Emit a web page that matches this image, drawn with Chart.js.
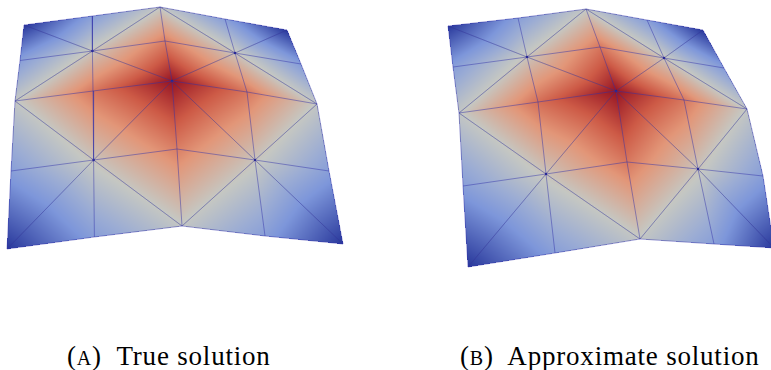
<!DOCTYPE html>
<html lang="en">
<head>
    <meta charset="UTF-8">
    <title>True and approximate solution</title>
    <script src="https://cdn.jsdelivr.net/npm/chart.js"></script>
    <style>
        html, body { margin: 0; background: #fff; overflow: hidden; }
        body { position: relative; width: 771px; height: 370px; }
        canvas { position: absolute; top: 0; }
        #trueMesh { left: 0; }
        #approxMesh { left: 385px; }
        .caption {
            position: absolute;
            top: 339px;
            font-family: "Liberation Serif", serif;
            font-size: 27px;
            line-height: 34px;
            letter-spacing: 0.8px;
            color: #000;
            white-space: nowrap;
        }
        .caption .tag { font-size: 20px; }
    </style>
</head>
<body>
    <canvas id="trueMesh" width="385" height="335"></canvas>
    <canvas id="approxMesh" width="386" height="335"></canvas>
    <div class="caption" style="left:67px">(<span class="tag">A</span>)&nbsp; True solution</div>
    <div class="caption" style="left:460px">(<span class="tag">B</span>)&nbsp; Approximate solution</div>

    <script>
        // Mesh nodes, 5 rows of 5, row by row
        const trueX = [24, 92.4, 160, 225, 287,  20, 92.4, 165, 235, 301,  15, 93, 172, 247, 317,  11, 93.6, 177, 255, 329,  7, 94.4, 182, 265, 343];
        const trueY = [25, 16, 7, 19, 30,  60.5, 51, 41, 53, 64,  101, 91, 81, 92, 104,  171, 160, 149, 160, 171,  249, 237, 226, 236, 244];
        const trueU = [0.0, 0.29, 0.49, 0.29, 0.0,  0.29, 0.52, 0.76, 0.52, 0.28,  0.49, 0.78, 1.0, 0.78, 0.49,  0.29, 0.52, 0.76, 0.52, 0.29,  0.0, 0.29, 0.49, 0.29, 0.0];

        const approxX = [448, 518, 586, 647, 703,  453, 527, 600, 664, 724,  459, 538, 616, 684, 747,  463, 546, 627, 698, 763,  468, 555, 640, 714, 774];
        const approxY = [26, 18, 9, 20, 30,  67, 57, 47, 58, 68,  113, 102, 91, 100, 109,  186, 174, 162, 169, 176,  267, 253, 239, 244, 248];
        const approxU = [0.0, 0.29, 0.49, 0.29, 0.0,  0.29, 0.52, 0.78, 0.52, 0.28,  0.49, 0.8, 1.0, 0.78, 0.49,  0.29, 0.52, 0.78, 0.52, 0.29,  0.0, 0.29, 0.49, 0.29, 0.0];

        // Blue to red colour map
        const mapStops = [0, 0.25, 0.36, 0.5, 0.7, 0.85, 1];
        const mapColors = [[40, 55, 155], [125, 150, 218], [155, 172, 212], [197, 199, 194], [226, 150, 120], [205, 90, 70], [150, 20, 35]];

        const GRID = 5;

        function colorFor(u) {
            let i = 0;
            while (i < mapStops.length - 2 && u > mapStops[i + 1]) i++;
            const t = Math.min(1, Math.max(0, (u - mapStops[i]) / (mapStops[i + 1] - mapStops[i])));
            return mapColors[i].map((v, k) => v + (mapColors[i + 1][k] - v) * t);
        }

        // Every quad is split along the diagonal through its odd/odd hub node
        function buildTriangles() {
            const tris = [];
            for (let r = 0; r < GRID - 1; r++) {
                for (let c = 0; c < GRID - 1; c++) {
                    const a = r * GRID + c, b = a + 1, d = a + GRID, e = d + 1;
                    if ((r % 2) === (c % 2)) tris.push([a, b, e], [a, e, d]);
                    else tris.push([a, b, d], [b, e, d]);
                }
            }
            return tris;
        }

        // Grid lines along rows and columns, broken up with nulls
        function gridLines(xs, ys) {
            const pts = [];
            for (let r = 0; r < GRID; r++) {
                for (let c = 0; c < GRID; c++) pts.push({x: xs[r * GRID + c], y: ys[r * GRID + c]});
                pts.push({x: null, y: null});
            }
            for (let c = 0; c < GRID; c++) {
                for (let r = 0; r < GRID; r++) pts.push({x: xs[r * GRID + c], y: ys[r * GRID + c]});
                pts.push({x: null, y: null});
            }
            return pts;
        }

        function diagonalLines(xs, ys) {
            const pts = [];
            buildTriangles().forEach(t => {
                const pairs = [[t[0], t[1]], [t[1], t[2]], [t[2], t[0]]];
                const diag = pairs.find(p => {
                    const dr = Math.abs(Math.floor(p[0] / GRID) - Math.floor(p[1] / GRID));
                    const dc = Math.abs(p[0] % GRID - p[1] % GRID);
                    return dr === 1 && dc === 1;
                });
                pts.push({x: xs[diag[0]], y: ys[diag[0]]}, {x: xs[diag[1]], y: ys[diag[1]]}, {x: null, y: null});
            });
            return pts;
        }

        // Shades the triangles pixel by pixel from the node values, through the chart's scales
        const shadePlugin = {
            id: 'shade',
            beforeDatasetsDraw(chart, args, opts) {
                const ctx = chart.ctx;
                const w = chart.width, h = chart.height;
                const px = opts.xs.map(v => chart.scales.x.getPixelForValue(v));
                const py = opts.ys.map(v => chart.scales.y.getPixelForValue(v));
                const img = ctx.createImageData(w, h);
                buildTriangles().forEach(t => {
                    const [x1, x2, x3] = t.map(i => px[i]);
                    const [y1, y2, y3] = t.map(i => py[i]);
                    const [u1, u2, u3] = t.map(i => opts.us[i]);
                    const det = (y2 - y3) * (x1 - x3) + (x3 - x2) * (y1 - y3);
                    const x0 = Math.max(0, Math.floor(Math.min(x1, x2, x3)));
                    const x9 = Math.min(w - 1, Math.ceil(Math.max(x1, x2, x3)));
                    const y0 = Math.max(0, Math.floor(Math.min(y1, y2, y3)));
                    const y9 = Math.min(h - 1, Math.ceil(Math.max(y1, y2, y3)));
                    for (let y = y0; y <= y9; y++) {
                        for (let x = x0; x <= x9; x++) {
                            const a = ((y2 - y3) * (x + 0.5 - x3) + (x3 - x2) * (y + 0.5 - y3)) / det;
                            const b = ((y3 - y1) * (x + 0.5 - x3) + (x1 - x3) * (y + 0.5 - y3)) / det;
                            const c = 1 - a - b;
                            if (a < -0.001 || b < -0.001 || c < -0.001) continue;
                            const col = colorFor(a * u1 + b * u2 + c * u3);
                            const o = (y * w + x) * 4;
                            img.data[o] = col[0];
                            img.data[o + 1] = col[1];
                            img.data[o + 2] = col[2];
                            img.data[o + 3] = 255;
                        }
                    }
                });
                ctx.putImageData(img, 0, 0);
            }
        };

        function drawMesh(id, xs, ys, us, xMin, xMax) {
            new Chart(document.getElementById(id), {
                type: 'scatter',
                data: {
                    datasets: [
                        {
                            data: gridLines(xs, ys),
                            showLine: true,
                            spanGaps: false,
                            pointRadius: 0,
                            borderColor: 'rgba(50, 50, 170, 0.48)',
                            borderWidth: 1
                        },
                        {
                            data: diagonalLines(xs, ys),
                            showLine: true,
                            spanGaps: false,
                            pointRadius: 0,
                            borderColor: 'rgba(50, 50, 150, 0.3)',
                            borderWidth: 0.9
                        },
                        {
                            // hub nodes and centre get a dark dot
                            data: xs.map((x, i) => ({x: x, y: ys[i]})).filter((p, i) => {
                                const r = Math.floor(i / GRID), c = i % GRID;
                                return (r % 2 === 1 && c % 2 === 1) || (r === 2 && c === 2);
                            }),
                            showLine: false,
                            pointRadius: 1.2,
                            pointBorderWidth: 0,
                            pointBackgroundColor: '#15157a'
                        }
                    ]
                },
                options: {
                    responsive: false,
                    animation: false,
                    events: [],
                    layout: { padding: 0, autoPadding: false },
                    plugins: {
                        legend: { display: false },
                        tooltip: { enabled: false },
                        shade: { xs: xs, ys: ys, us: us }
                    },
                    scales: {
                        x: { type: 'linear', display: false, min: xMin, max: xMax },
                        y: { type: 'linear', display: false, min: 0, max: 335, reverse: true }
                    }
                },
                plugins: [shadePlugin]
            });
        }

        drawMesh('trueMesh', trueX, trueY, trueU, 0, 385);
        drawMesh('approxMesh', approxX, approxY, approxU, 385, 771);
    </script>
</body>
</html>
